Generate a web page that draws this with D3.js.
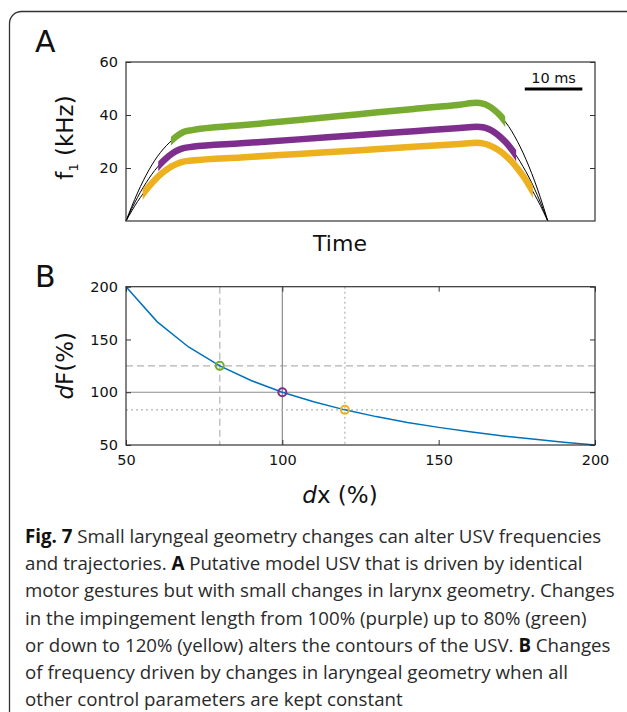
<!DOCTYPE html>
<html lang="en">
<head>
  <meta charset="UTF-8">
  <title>Fig. 7</title>
  <style>
  body {
    margin: 0;
    background: #fff;
  }
  svg text {
    font-family: "DejaVu Sans", sans-serif;
    fill: #111;
  }
  .caption {
    font-family: "Open Sans", sans-serif;
    font-size: 18.7px;
    fill: #2a2a2a;
  }
  </style>
  <script src="https://cdn.jsdelivr.net/npm/d3@7"></script>
</head>
<body>
<div id="chart"></div>
<script>
// ---- panel A : model USV contours (time in ms, f1 in kHz)
var timeMs  = [0, 1, 2, 3, 4, 5, 6, 7, 8, 9, 10, 11.5, 20, 30, 40, 50, 58, 61, 62, 63, 64, 65, 66, 67, 68, 69, 70, 71, 72, 73.3];
var greenF  = [0, 5.5, 10.6, 15.2, 19.3, 22.9, 25.9, 28.4, 30.5, 32.3, 33.6, 34.3, 36.1, 38.1, 40.2, 42.3, 43.9, 44.6, 44.3, 43.4, 41.9, 39.9, 37.2, 34.0, 30.1, 25.7, 20.7, 15.1, 8.9, 0];
var purpleF = [0, 4.7, 8.9, 12.7, 16.1, 19.1, 21.6, 23.7, 25.4, 26.7, 27.5, 28.0, 29.3, 30.8, 32.4, 33.9, 35.1, 35.6, 35.4, 34.7, 33.5, 31.8, 29.7, 27.1, 24.1, 20.5, 16.6, 12.1, 7.1, 0];
var yellowF = [0, 3.8, 7.3, 10.4, 13.1, 15.5, 17.6, 19.3, 20.7, 21.7, 22.4, 22.8, 24.0, 25.3, 26.6, 28.0, 29.1, 29.5, 29.3, 28.7, 27.7, 26.4, 24.6, 22.5, 19.9, 17.0, 13.7, 10.0, 5.9, 0];
var thickStartMs = [7.8, 5.6, 2.9];
var thickEndMs   = [65.9, 67.8, 70.7];
var yTicksA = [20, 40, 60];
var scaleBarMs = [69.3, 79.3];

// ---- panel B : frequency change vs geometry change
var dxPct = [50, 60, 70, 80, 90, 100, 110, 120, 130, 140, 150, 160, 170, 180, 190, 200];
var dFPct = [200, 166.7, 142.9, 125, 111.1, 100, 90.9, 83.3, 76.9, 71.4, 66.7, 62.5, 58.8, 55.6, 52.6, 50];
var markerDx = [80, 100, 120];
var markerDF = [125, 100, 83.3];
var xTicksB = [50, 100, 150, 200];
var yTicksB = [50, 100, 150, 200];

// ---- caption
var captionLines = [
  [["Fig. 7", true], [" Small laryngeal geometry changes can alter USV frequencies", false]],
  [["and trajectories. ", false], ["A", true], [" Putative model USV that is driven by identical", false]],
  [["motor gestures but with small changes in larynx geometry. Changes", false]],
  [["in the impingement length from 100% (purple) up to 80% (green)", false]],
  [["or down to 120% (yellow) alters the contours of the USV. ", false], ["B", true], [" Changes", false]],
  [["of frequency driven by changes in laryngeal geometry when all", false]],
  [["other control parameters are kept constant", false]]
];

var seriesF = [greenF, purpleF, yellowF];
var colors = ["#77AC30", "#7E2F8E", "#EDB120"];
var guideDash = ["7,4", null, "2,3"];
var guideColor = ["#b3b3b3", "#8c8c8c", "#b3b3b3"];
var boxColor = "#333";

var W = 627, H = 712;
var svg = d3.select("#chart").append("svg")
    .attr("width", W)
    .attr("height", H);

// outer frame
svg.append("rect")
    .attr("x", 9.5).attr("y", 11.5)
    .attr("width", 640).attr("height", 730)
    .attr("rx", 12)
    .attr("fill", "none")
    .attr("stroke", "#333")
    .attr("stroke-width", 1.3);

// panel A
var plotA = {left: 126, right: 595, top: 62, bottom: 221};
var xA = d3.scaleLinear().domain([0, 81.5]).range([plotA.left, plotA.right]);
var yA = d3.scaleLinear().domain([0, 60]).range([plotA.bottom, plotA.top]);

var gA = svg.append("g");

var lineA = d3.line()
    .x(function(d) { return xA(d[0]); })
    .y(function(d) { return yA(d[1]); })
    .curve(d3.curveMonotoneX);

var defs = svg.append("defs");

seriesF.forEach(function(f, i) {
  var pts = timeMs.map(function(t, j) { return [t, f[j]]; });
  gA.append("path")
      .attr("d", lineA(pts))
      .attr("fill", "none")
      .attr("stroke", "#000")
      .attr("stroke-width", 1);

  defs.append("clipPath")
      .attr("id", "clip" + i)
    .append("rect")
      .attr("x", xA(thickStartMs[i]))
      .attr("y", plotA.top)
      .attr("width", xA(thickEndMs[i]) - xA(thickStartMs[i]))
      .attr("height", plotA.bottom - plotA.top);
});

seriesF.forEach(function(f, i) {
  var pts = timeMs.map(function(t, j) { return [t, f[j]]; });
  gA.append("path")
      .attr("d", lineA(pts))
      .attr("clip-path", "url(#clip" + i + ")")
      .attr("fill", "none")
      .attr("stroke", colors[i])
      .attr("stroke-width", 6.5);
});

// ticks, left with labels, right without
var axLA = gA.append("g")
    .attr("transform", "translate(" + plotA.left + ",0)")
    .call(d3.axisLeft(yA).tickValues(yTicksA).tickSizeInner(-5).tickSizeOuter(0).tickPadding(8));
var axRA = gA.append("g")
    .attr("transform", "translate(" + plotA.right + ",0)")
    .call(d3.axisRight(yA).tickValues(yTicksA).tickSizeInner(-5).tickSizeOuter(0).tickFormat(""));
[axLA, axRA].forEach(function(ax) {
  ax.select(".domain").remove();
  ax.selectAll("line").attr("stroke", boxColor);
  ax.selectAll("text").attr("font-size", 14.5).attr("font-family", null).attr("fill", "#111");
});

gA.append("rect")
    .attr("x", plotA.left).attr("y", plotA.top)
    .attr("width", plotA.right - plotA.left)
    .attr("height", plotA.bottom - plotA.top)
    .attr("fill", "none")
    .attr("stroke", boxColor)
    .attr("stroke-width", 1.2);

// 10 ms scale bar
gA.append("line")
    .attr("x1", xA(scaleBarMs[0])).attr("x2", xA(scaleBarMs[1]))
    .attr("y1", 89).attr("y2", 89)
    .attr("stroke", "#000")
    .attr("stroke-width", 3);
gA.append("text")
    .attr("x", (xA(scaleBarMs[0]) + xA(scaleBarMs[1])) / 2)
    .attr("y", 83)
    .attr("text-anchor", "middle")
    .attr("font-size", 14.5)
    .text("10 ms");

gA.append("text")
    .attr("x", 340).attr("y", 251)
    .attr("text-anchor", "middle")
    .attr("font-size", 22)
    .text("Time");

var yLabA = gA.append("text")
    .attr("transform", "translate(73,137.5) rotate(-90)")
    .attr("text-anchor", "middle")
    .attr("font-size", 23);
yLabA.append("tspan").text("f");
yLabA.append("tspan").attr("font-size", 13).attr("dy", 5).text("1");
yLabA.append("tspan").attr("dy", -5).text(" (kHz)");

svg.append("text")
    .attr("x", 35).attr("y", 52)
    .attr("font-size", 30)
    .text("A");

// panel B
var plotB = {left: 126, right: 595, top: 286.7, bottom: 445};
var xB = d3.scaleLinear().domain([50, 200]).range([plotB.left, plotB.right]);
var yB = d3.scaleLinear().domain([50, 200]).range([plotB.bottom, plotB.top]);

var gB = svg.append("g");

markerDx.forEach(function(v, i) {
  gB.append("line")
      .attr("x1", xB(v)).attr("x2", xB(v))
      .attr("y1", plotB.top).attr("y2", plotB.bottom)
      .attr("stroke", guideColor[i])
      .attr("stroke-width", 1.2)
      .attr("stroke-dasharray", guideDash[i]);
  gB.append("line")
      .attr("x1", plotB.left).attr("x2", plotB.right)
      .attr("y1", yB(markerDF[i])).attr("y2", yB(markerDF[i]))
      .attr("stroke", guideColor[i])
      .attr("stroke-width", 1.2)
      .attr("stroke-dasharray", guideDash[i]);
});

gB.append("path")
    .datum(dxPct.map(function(x, j) { return [x, dFPct[j]]; }))
    .attr("d", d3.line()
        .x(function(d) { return xB(d[0]); })
        .y(function(d) { return yB(d[1]); }))
    .attr("fill", "none")
    .attr("stroke", "#0072BD")
    .attr("stroke-width", 1.5);

gB.selectAll(".marker")
    .data(markerDx)
    .enter().append("circle")
    .attr("class", "marker")
    .attr("cx", function(d) { return xB(d); })
    .attr("cy", function(d, i) { return yB(markerDF[i]); })
    .attr("r", 4)
    .attr("fill", "none")
    .attr("stroke", function(d, i) { return colors[i]; })
    .attr("stroke-width", 2);

var axLB = gB.append("g")
    .attr("transform", "translate(" + plotB.left + ",0)")
    .call(d3.axisLeft(yB).tickValues(yTicksB).tickSizeInner(-5).tickSizeOuter(0).tickPadding(8));
var axRB = gB.append("g")
    .attr("transform", "translate(" + plotB.right + ",0)")
    .call(d3.axisRight(yB).tickValues(yTicksB).tickSizeInner(-5).tickSizeOuter(0).tickFormat(""));
var axBB = gB.append("g")
    .attr("transform", "translate(0," + plotB.bottom + ")")
    .call(d3.axisBottom(xB).tickValues(xTicksB).tickSizeInner(-5).tickSizeOuter(0).tickPadding(10));
var axTB = gB.append("g")
    .attr("transform", "translate(0," + plotB.top + ")")
    .call(d3.axisTop(xB).tickValues(xTicksB).tickSizeInner(-5).tickSizeOuter(0).tickFormat(""));
[axLB, axRB, axBB, axTB].forEach(function(ax) {
  ax.select(".domain").remove();
  ax.selectAll("line").attr("stroke", boxColor);
  ax.selectAll("text").attr("font-size", 14.5).attr("font-family", null).attr("fill", "#111");
});

gB.append("rect")
    .attr("x", plotB.left).attr("y", plotB.top)
    .attr("width", plotB.right - plotB.left)
    .attr("height", plotB.bottom - plotB.top)
    .attr("fill", "none")
    .attr("stroke", boxColor)
    .attr("stroke-width", 1.2);

var yLabB = gB.append("text")
    .attr("transform", "translate(73,365.8) rotate(-90)")
    .attr("text-anchor", "middle")
    .attr("font-size", 23);
yLabB.append("tspan").attr("font-style", "italic").text("d");
yLabB.append("tspan").text("F(%)");

var xLabB = gB.append("text")
    .attr("x", 340).attr("y", 503)
    .attr("text-anchor", "middle")
    .attr("font-size", 23);
xLabB.append("tspan").attr("font-style", "italic").text("d");
xLabB.append("tspan").text("x (%)");

svg.append("text")
    .attr("x", 35).attr("y", 287)
    .attr("font-size", 30)
    .text("B");

// caption
var cap = svg.append("g");
captionLines.forEach(function(line, i) {
  var t = cap.append("text")
      .attr("class", "caption")
      .attr("x", 25)
      .attr("y", 543 + i * 27.2);
  line.forEach(function(seg) {
    t.append("tspan")
        .attr("font-weight", seg[1] ? 700 : 400)
        .attr("fill", seg[1] ? "#111" : null)
        .text(seg[0]);
  });
});
</script>
</body>
</html>
